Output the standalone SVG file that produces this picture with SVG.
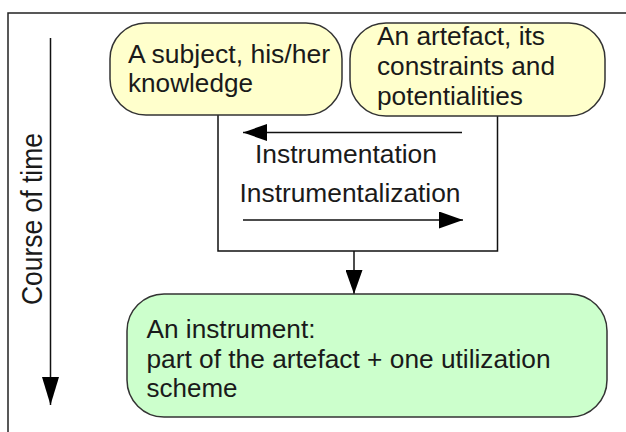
<svg xmlns="http://www.w3.org/2000/svg" width="626" height="432" viewBox="0 0 626 432">
<defs>
<style>
.node{stroke:#333;stroke-width:1.5}
.yellow{fill:#FFFFCC}
.green{fill:#CCFFCC}
.t{font-family:"Liberation Sans",Arial,sans-serif;font-size:25px;fill:#1a1a1a}
.ln{fill:none;stroke:#111;stroke-width:1.5}
</style>
<marker id="ah" markerUnits="userSpaceOnUse" markerWidth="24" markerHeight="17" refX="24" refY="8.5" orient="auto">
<path d="M0,0 L24,8.5 L0,17 z" fill="#000"/>
</marker>
<marker id="ahBig" markerUnits="userSpaceOnUse" markerWidth="28" markerHeight="17" refX="28" refY="8.5" orient="auto">
<path d="M0,0 L28,8.5 L0,17 z" fill="#000"/>
</marker>
</defs>
<rect x="8" y="13" width="700" height="500" fill="none" stroke="#222" stroke-width="1.5"/>
<g id="time">
<line class="ln" x1="50.5" y1="38" x2="50.5" y2="405" marker-end="url(#ahBig)"/>
<text class="t" text-anchor="middle" transform="translate(42,219) scale(1.15,1) rotate(-90)" style="font-size:26px" textLength="172" lengthAdjust="spacingAndGlyphs">Course of time</text>
</g>
<g id="connectors">
<path class="ln" d="M218,115 V251 H497.5 V116"/>
<line class="ln" x1="354" y1="251" x2="354" y2="294" marker-end="url(#ah)"/>
<line class="ln" x1="462" y1="132.5" x2="243" y2="132.5" marker-end="url(#ah)"/>
<line class="ln" x1="243" y1="220" x2="463" y2="220" marker-end="url(#ah)"/>
<text class="t" x="255" y="163" textLength="182" lengthAdjust="spacingAndGlyphs">Instrumentation</text>
<text class="t" x="239.5" y="202" textLength="221" lengthAdjust="spacingAndGlyphs">Instrumentalization</text>
</g>
<g id="subject">
<rect class="node yellow" x="110" y="23" width="232" height="92" rx="36"/>
<text class="t" x="128" y="63" textLength="202" lengthAdjust="spacingAndGlyphs">A subject, his/her</text>
<text class="t" x="128" y="91.5" textLength="125" lengthAdjust="spacingAndGlyphs">knowledge</text>
</g>
<g id="artefact">
<rect class="node yellow" x="350" y="23" width="255" height="93" rx="36"/>
<text class="t" x="377" y="45" textLength="168" lengthAdjust="spacingAndGlyphs">An artefact, its</text>
<text class="t" x="377" y="75" textLength="178" lengthAdjust="spacingAndGlyphs">constraints and</text>
<text class="t" x="377" y="105" textLength="146" lengthAdjust="spacingAndGlyphs">potentialities</text>
</g>
<g id="instrument">
<rect class="node green" x="127" y="294" width="480" height="123" rx="37"/>
<text class="t" x="146.5" y="338" textLength="169" lengthAdjust="spacingAndGlyphs">An instrument:</text>
<text class="t" x="146.5" y="368" textLength="404" lengthAdjust="spacingAndGlyphs">part of the artefact + one utilization</text>
<text class="t" x="146.5" y="397" textLength="91" lengthAdjust="spacingAndGlyphs">scheme</text>
</g>
</svg>
